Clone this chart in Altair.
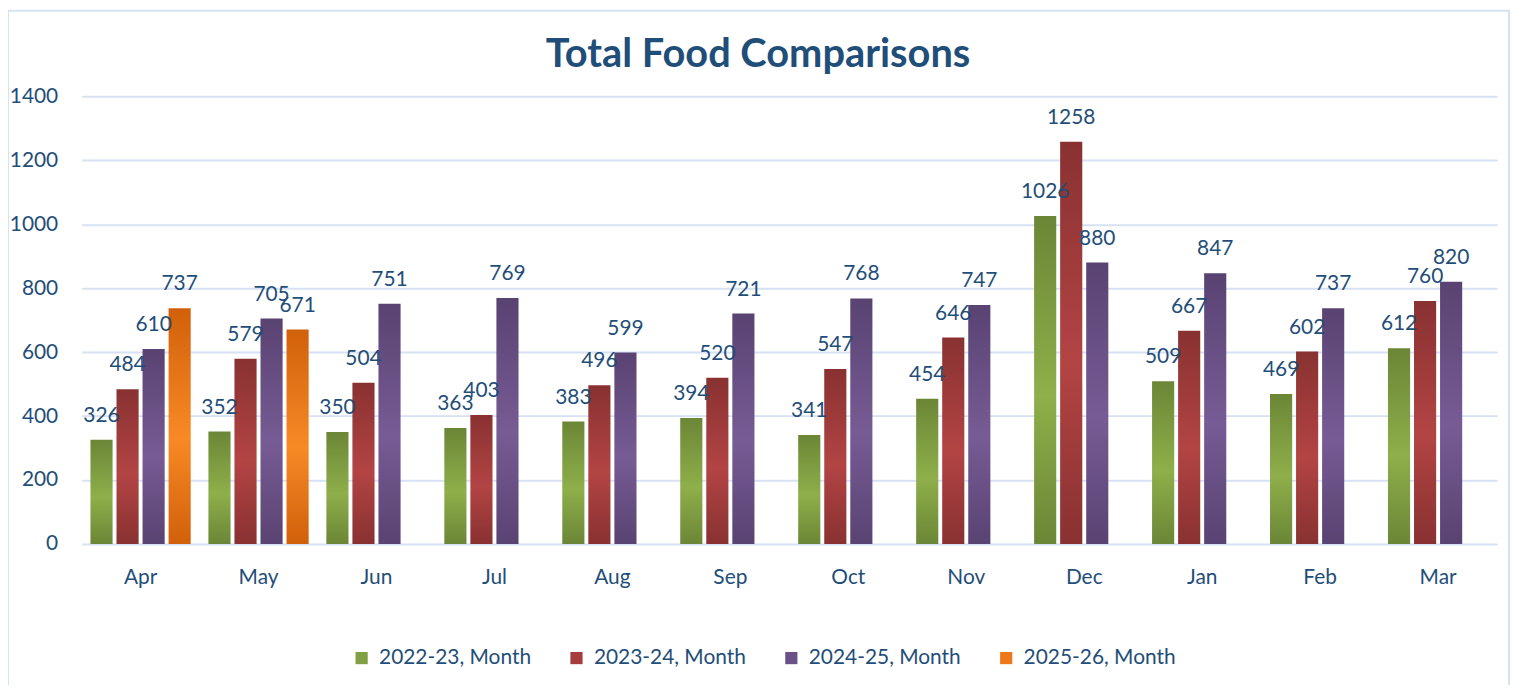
import altair as alt
import pandas as pd

title_text = ["Total Food Comparisons"]
months = ["Apr", "May", "Jun", "Jul", "Aug", "Sep", "Oct", "Nov", "Dec", "Jan", "Feb", "Mar"]
series = ["2022-23, Month", "2023-24, Month", "2024-25, Month", "2025-26, Month"]
v2223 = [326, 352, 350, 363, 383, 394, 341, 454, 1026, 509, 469, 612]
v2324 = [484, 579, 504, 403, 496, 520, 547, 646, 1258, 667, 602, 760]
v2425 = [610, 705, 751, 769, 599, 721, 768, 747, 880, 847, 737, 820]
v2526 = [737, 671]

rows = []
for s, vals in zip(series, [v2223, v2324, v2425, v2526]):
    for m, v in zip(months, vals):
        rows.append({"month": m, "series": s, "value": v})
df = pd.DataFrame(rows)

TEXT = "#1F4E79"
GRID = "#D6E1F3"
FONT = "Lato"
FS = 21

grad_stops = {
    "2022-23, Month": ("#6B8636", "#8EAF4A"),
    "2023-24, Month": ("#893131", "#B34444"),
    "2024-25, Month": ("#594372", "#775B95"),
    "2025-26, Month": ("#D1600A", "#F78A25"),
}
legend_colors = ["#80A043", "#A53D3D", "#6A5288", "#EC781A"]

x_enc = alt.X(
    "month:N", sort=months,
    scale=alt.Scale(paddingInner=0.15, paddingOuter=0.075),
    axis=alt.Axis(title=None, labelAngle=0, labelFontSize=FS, labelColor=TEXT, labelFont=FONT,
                  ticks=False, domain=False, labelPadding=23),
)
xoff_enc = alt.XOffset("series:N", sort=series,
                       scale=alt.Scale(domain=series, paddingInner=0.15, paddingOuter=0))
y_enc = alt.Y(
    "value:Q",
    scale=alt.Scale(domain=[0, 1400], nice=False),
    axis=alt.Axis(title=None, values=list(range(0, 1401, 200)), format="d", labelFontSize=FS,
                  labelColor=TEXT, labelFont=FONT, ticks=False, domain=False, gridColor=GRID,
                  gridWidth=2, labelPadding=24),
)

base = alt.Chart(df)

layers = []
for s in series:
    dark, light = grad_stops[s]
    grad = alt.Gradient(
        gradient="linear",
        stops=[alt.GradientStop(color=dark, offset=0),
               alt.GradientStop(color=light, offset=0.55),
               alt.GradientStop(color=dark, offset=1)],
        x1=0, x2=0, y1=0, y2=1,
    )
    layers.append(
        base.transform_filter(alt.datum.series == s)
        .mark_bar(color=grad)
        .encode(x=x_enc, xOffset=xoff_enc, y=y_enc)
    )

labels = base.mark_text(fontSize=FS, font=FONT, color=TEXT, baseline="alphabetic", dy=-18).encode(
    x=x_enc, xOffset=xoff_enc, y=y_enc, text="value:Q"
)

legend_layer = base.mark_square(opacity=0).encode(
    color=alt.Color(
        "series:N", sort=series,
        scale=alt.Scale(domain=series, range=legend_colors),
        legend=alt.Legend(
            title=None, orient="none", direction="horizontal", legendX=271, legendY=554,
            labelFontSize=FS, labelFont=FONT, labelColor=TEXT, symbolType="square",
            symbolSize=150, symbolOpacity=1, symbolStrokeWidth=0, columnPadding=35,
            labelOffset=7,
        ),
    )
)

frame = alt.Chart(pd.DataFrame({"a": [0]})).mark_rect(fill=None, stroke="#D6E1F3", strokeWidth=2).encode(
    x=alt.value(-74), x2=alt.value(1435), y=alt.value(-86), y2=alt.value(620)
)

title = alt.Chart(pd.DataFrame({"t": title_text})).mark_text(
    fontSize=40, font=FONT, fontWeight="bold", color=TEXT, align="center", baseline="alphabetic"
).encode(x=alt.value(680), y=alt.value(-29), text="t:N")

chart = alt.layer(frame, *layers, labels, legend_layer, title).properties(
    width=1423, height=450,
    autosize=alt.AutoSizeParams(type="none"),
    padding={"left": 74, "top": 87, "right": 16, "bottom": 140},
).configure_view(stroke=None)

chart.save("out.html", embed_options={"renderer": "svg", "actions": False})
